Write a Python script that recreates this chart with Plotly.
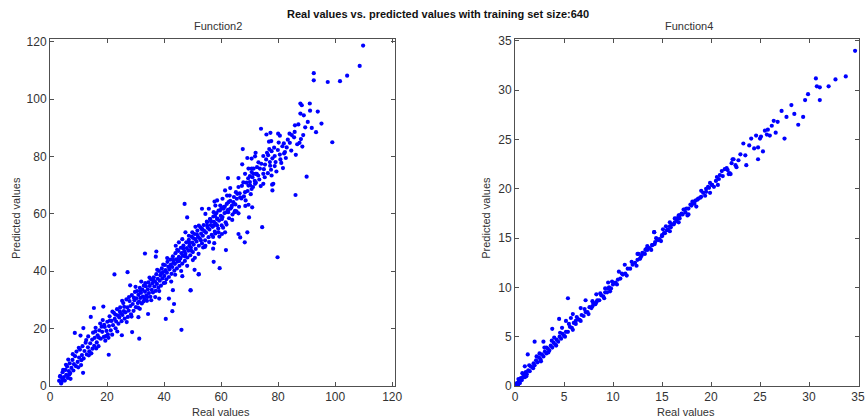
import plotly.graph_objects as go

# ---------------- Function2 data ----------------
f2_real = [
    109.8, 92.5, 92.5, 97.4, 101.7, 104.2, 108.6, 87.8, 88.3, 91.1, 91.2, 93.9, 87.8, 85.9,
    74.0, 75.9, 77.3, 80.0, 80.6, 84.8, 85.6, 88.8, 84.1, 87.5, 88.5, 99.0, 76.8, 77.6, 82.0,
    76.9, 77.7, 76.5, 78.8, 80.6, 82.4, 82.1, 71.9, 70.7, 74.8, 75.4, 77.1, 78.8, 81.7, 73.6,
    90.0, 70.7, 72.1, 73.0, 74.8, 77.7, 78.3, 74.8, 70.1,
    86.1, 79.8, 74.4, 67.6, 72.1, 69.2, 67.4, 69.6, 70.7, 71.4, 72.5, 71.3, 70.1, 68.4, 66.1,
    62.4, 77.9, 78.0, 71.9, 69.6, 70.7, 68.4, 66.1, 65.2, 63.2, 61.4, 62.1, 60.5, 62.6, 63.8,
    65.5, 66.7, 68.6, 69.6, 70.9, 69.8, 66.1, 66.7, 69.2, 68.3, 64.7, 66.1, 58.6, 58.0, 59.7,
    59.1, 60.9, 62.0, 63.2, 57.4, 55.7, 53.3, 47.2, 48.1, 54.5, 56.2, 58.6, 60.3, 55.1, 57.4,
    59.1, 58.0, 53.3, 52.2, 51.0, 49.9, 48.7, 47.5, 46.4, 45.2, 44.1, 54.5, 57.6, 61.7, 57.4,
    59.5, 52.1, 49.3,
    57.7, 33.3, 37.3, 37.1, 22.6, 27.2, 28.1, 15.4, 18.7, 14.3, 8.7, 10.7, 11.7, 11.6, 7.2,
    4.1, 3.5, 4.6, 6.4, 20.6, 31.3, 28.8, 25.2, 46.1, 40.6, 42.9, 43.5, 34.4, 31.0, 31.5,
    38.3, 41.7, 43.1, 49.3, 46.4, 50.7, 52.2, 53.7, 57.2, 50.1, 60.3, 61.4,
    66.5, 67.3, 68.0, 68.9, 69.5, 70.2, 71.0, 71.8, 72.6, 73.4, 74.1, 75.0, 75.8, 76.4, 77.2,
    78.0, 79.1, 79.9, 80.8, 81.5, 82.7, 83.4, 84.6, 85.8, 86.7, 89.5, 90.4, 95.2,
    3.2, 3.6, 3.9, 4.3, 4.4, 4.9, 5.2, 5.4, 5.7, 6.0, 6.3, 6.6, 6.9, 7.1, 7.5, 7.9, 8.2, 8.4,
    8.8, 9.1, 9.3, 9.7, 10.2, 10.5, 10.9,
    11.2, 11.4, 11.8, 12.1, 12.5, 12.9, 13.3, 13.4, 13.8, 14.1, 14.5, 14.8, 15.1, 15.5, 15.7,
    16.0, 16.4, 16.7, 17.0, 17.3, 17.6, 17.8, 18.3, 18.5, 18.9, 19.2, 19.4, 19.8, 20.1, 20.3,
    20.7, 20.9, 21.3, 21.6, 21.8, 22.1, 22.4, 22.7, 23.0, 23.2, 23.5, 23.8, 24.0, 24.3, 24.6,
    24.9, 25.1, 25.4, 25.7, 25.9, 26.2, 26.5, 26.8, 27.1, 27.3, 27.6, 27.9, 28.2, 28.4, 28.7,
    29.0, 29.3, 29.6, 29.8, 30.1,
    30.3, 30.5, 30.8, 31.0, 31.2, 31.5, 31.7, 31.9, 32.2, 32.4, 32.6, 32.9, 33.1, 33.3, 33.6,
    33.8, 34.0, 34.3, 34.5, 34.7, 35.0, 35.2, 35.4, 35.7, 35.9, 36.1, 36.4, 36.6, 36.8, 37.1,
    37.3, 37.5, 37.8, 38.0, 38.2, 38.5, 38.7, 38.9, 39.2, 39.4, 39.6, 39.9, 40.1,
    40.3, 40.5, 40.8, 41.0, 41.2, 41.5, 41.7, 41.9, 42.2, 42.4, 42.6, 42.9, 43.1, 43.3, 43.6,
    43.8, 44.0, 44.3, 44.5, 44.7, 45.0, 45.2, 45.4, 45.7, 45.9, 46.1, 46.4, 46.6, 46.8, 47.1,
    47.3, 47.5, 47.8, 48.0, 48.2, 48.5, 48.7, 48.9, 49.2, 49.4, 49.6, 49.9,
    50.1, 50.4, 50.6, 50.9, 51.1, 51.4, 51.7, 51.9, 52.2, 52.5, 52.8, 53.0, 53.3, 53.6, 53.9,
    54.2, 54.4, 54.7, 55.0, 55.3, 55.6, 55.9, 56.1, 56.4, 56.7, 57.0, 57.3, 57.5, 57.8, 58.1,
    58.4, 58.7, 59.0, 59.3, 59.6, 59.9,
    60.2, 60.5, 60.9, 61.2, 61.6, 62.0, 62.4, 62.8, 63.2, 63.6, 64.0, 64.5, 65.0, 65.4,
    5.6, 6.8, 8.0, 9.9, 10.1, 11.0, 12.7, 13.6, 14.9, 15.9, 16.2, 17.1, 18.1, 19.0, 19.6,
    20.5, 21.0, 21.9, 22.9, 23.6, 24.5, 25.3, 26.0, 26.9, 27.7, 28.6, 29.4, 30.0, 30.9, 31.6,
    32.0, 32.8, 33.4, 34.1, 34.9, 35.5, 36.2, 36.9, 37.6, 38.3, 39.0, 39.7, 40.4, 41.1, 41.8,
    42.5, 43.2, 43.9, 44.6, 45.3, 46.0, 46.7, 47.4, 48.1, 48.8, 49.5, 50.2, 50.8, 51.5, 52.1,
    52.9, 53.5, 54.3, 55.1, 55.8, 56.5, 57.2, 57.9, 58.6, 59.4, 60.1, 60.7, 61.3, 61.9, 62.5,
    63.0, 63.9, 64.3, 64.9, 65.7, 66.3, 67.1, 67.8, 68.5, 69.3, 70.4, 71.2, 72.2, 73.1, 73.9,
    75.3, 76.1, 77.5, 78.6, 79.4, 80.2, 81.1, 83.0, 84.0, 86.2, 87.1, 88.0, 89.0, 91.8, 93.3,
]
f2_pred = [
    118.7, 109.1, 106.6, 106.0, 106.3, 108.2, 111.6, 98.5, 97.9, 98.5, 96.0, 95.7, 95.0, 90.9,
    89.7, 87.7, 88.3, 88.0, 87.3, 87.5, 86.7, 87.5, 84.8, 84.8, 83.5, 85.0, 85.2, 85.4, 84.6,
    82.6, 81.9, 80.5, 80.2, 80.7, 81.6, 81.1, 80.1, 79.3, 80.2, 77.2, 78.1, 76.7, 76.0, 75.8,
    73.0, 74.6, 74.0, 73.4, 74.0, 73.4, 70.5, 70.5, 71.1,
    66.6, 44.9, 55.4, 82.6, 81.3, 79.5, 77.3, 75.8, 75.8, 75.8, 74.0, 74.0, 73.2, 74.0, 72.5,
    72.5, 70.2, 68.2, 70.5, 69.9, 68.7, 67.6, 69.4, 67.6, 69.0, 68.2, 66.4, 65.3, 64.1, 62.9,
    65.3, 65.8, 64.7, 63.2, 62.3, 58.8, 53.0, 51.8, 53.6, 50.1, 60.6, 60.2, 64.7, 62.9, 62.9,
    61.2, 61.8, 60.6, 61.8, 60.6, 61.8, 61.8, 63.5, 58.8, 60.0, 58.2, 58.2, 58.2, 57.1, 55.9,
    53.6, 53.2, 54.7, 55.9, 55.5, 53.6, 52.4, 53.6, 51.2, 50.1, 48.9, 48.9, 49.8, 47.4, 43.3,
    41.1, 38.9, 33.3,
    64.3, 46.2, 46.9, 45.1, 38.9, 39.7, 35.1, 27.2, 27.7, 24.1, 18.5, 17.6, 20.2, 4.6, 2.5,
    1.5, 3.3, 5.6, 9.2, 10.9, 16.5, 18.8, 17.7, 19.6, 23.4, 26.1, 28.6, 25.1, 24.0, 26.9,
    30.5, 30.5, 33.4, 33.4, 38.3, 40.5, 39.0, 48.3, 47.9, 43.9, 53.0, 53.6,
    67.2, 69.8, 66.1, 70.9, 72.4, 70.0, 72.8, 71.5, 76.3, 72.0, 77.5, 75.6, 79.0, 74.2, 76.8,
    79.4, 78.1, 82.3, 79.0, 83.6, 79.5, 85.9, 82.1, 88.6, 84.3, 90.2, 92.1, 91.5,
    1.8, 3.5, 0.9, 2.6, 4.8, 3.1, 1.9, 5.6, 3.9, 6.8, 2.8, 5.2, 7.9, 4.5, 6.3, 9.1, 5.4, 7.6,
    10.4, 6.9, 12.0, 8.4, 9.9, 12.7, 7.3,
    10.8, 13.9, 9.6, 12.2, 15.1, 11.0, 13.5, 17.3, 12.1, 14.9, 11.4, 16.2, 18.6, 14.0, 16.8,
    20.3, 15.2, 17.7, 13.9, 19.4, 21.8, 16.5, 18.9, 23.0, 17.1, 20.6, 15.8, 19.2, 22.4, 18.0,
    20.9, 24.3, 19.4, 22.7, 17.9, 21.2, 25.5, 23.4, 20.1, 22.5, 26.8, 24.6, 21.7, 23.9, 27.4,
    25.2, 22.6, 24.8, 28.9, 26.1, 23.5, 25.7, 30.2, 27.4, 24.1, 26.3, 29.6, 27.9, 25.0, 31.7,
    28.6, 26.2, 29.9, 32.8, 27.5,
    30.6, 33.1, 28.9, 31.8, 29.4, 34.2, 30.7, 32.5, 28.8, 33.6, 31.2, 35.0, 30.4, 32.9, 34.8,
    31.6, 29.7, 33.7, 36.1, 32.4, 34.9, 31.1, 37.2, 33.5, 35.8, 32.6, 37.9, 34.7, 36.5, 33.2,
    39.0, 35.6, 37.4, 34.3, 40.1, 36.7, 38.6, 35.0, 41.0, 37.5, 39.7, 35.9, 38.4,
    42.2, 40.4, 37.2, 39.5, 43.3, 41.6, 38.0, 40.7, 44.1, 42.3, 39.1, 41.5, 45.2, 43.0, 40.2,
    42.6, 46.3, 44.2, 41.0, 43.4, 47.1, 45.0, 41.9, 44.5, 48.2, 46.3, 42.7, 45.4, 49.0, 47.0,
    43.6, 46.1, 50.1, 48.1, 44.8, 47.2, 51.0, 49.0, 45.6, 48.3, 52.1, 50.0,
    46.7, 49.3, 53.0, 51.2, 47.8, 50.4, 54.2, 52.0, 48.9, 51.5, 55.3, 53.1, 49.7, 52.4, 56.1,
    54.0, 50.8, 53.5, 57.3, 55.2, 51.9, 54.6, 58.2, 56.1, 52.7, 55.5, 59.1, 57.2, 53.8, 56.6,
    60.3, 58.4, 54.9, 57.7, 61.2, 59.3,
    56.0, 58.9, 62.4, 60.3, 57.1, 63.5, 61.4, 58.5, 64.6, 62.2, 59.8, 65.9, 63.3, 60.9,
    7.4, 4.0, 11.1, 6.5, 13.3, 9.0, 16.0, 10.7, 13.0, 19.0, 13.1, 16.9, 20.7, 21.3, 17.4,
    16.8, 22.8, 25.9, 24.9, 19.0, 26.0, 29.7, 27.6, 22.3, 31.0, 24.2, 30.8, 34.6, 27.3, 33.0,
    36.4, 29.5, 35.9, 31.0, 37.8, 29.9, 36.8, 31.0, 40.5, 33.1, 39.2, 42.3, 36.0, 44.6, 41.4,
    36.4, 44.0, 38.8, 47.5, 43.6, 40.1, 48.0, 45.2, 41.9, 50.0, 47.2, 51.6, 44.7, 52.9, 46.1,
    50.8, 54.6, 48.5, 55.9, 50.2, 57.4, 52.0, 59.3, 56.0, 52.1, 61.9, 55.2, 62.6, 56.3, 60.6,
    66.4, 57.9, 64.1, 61.1, 67.0, 62.5, 65.4, 71.0, 62.8, 68.0, 66.9, 69.4, 70.9, 78.0, 69.7,
    72.8, 81.3, 75.4, 83.1, 74.8, 84.9, 77.8, 83.2, 88.0, 80.6, 91.2, 86.1, 94.4, 90.0, 88.5,
]

# ---------------- Function4 data ----------------
f4_real = [
    34.7, 33.75, 32.7, 32.0, 31.1, 30.8, 30.7, 31.1, 29.9, 29.6, 29.4, 28.9, 27.7, 27.5, 26.6,
    26.4, 26.2, 25.8, 25.7, 25.1, 25.0, 24.1, 23.3, 24.8, 25.3, 24.8, 22.8, 22.3, 22.5, 23.6,
    22.0, 21.8, 21.6, 21.4, 21.1, 20.9, 20.8, 20.5, 20.7, 20.1, 19.7, 22.2, 21.9, 19.9, 19.5,
    19.0, 18.7, 18.4, 18.2, 17.9, 17.3, 17.7, 17.0, 16.7, 16.5, 16.3, 16.0, 15.8, 15.5, 15.2,
    15.0, 14.2, 14.6, 14.3, 14.0, 13.5, 13.3, 13.0, 12.6, 12.8,
    1.3, 2.0, 2.9, 3.8, 4.5, 5.2, 5.4, 5.9, 5.7, 6.7, 7.2, 6.2, 9.5, 9.2, 9.7, 12.5, 14.2,
    15.1, 15.8, 16.8, 17.5, 1.0, 2.5, 3.2, 4.0, 8.3, 10.6, 11.2, 7.9, 4.8,
    0.1, 0.2, 0.3, 0.4, 0.5, 0.6, 0.7, 0.8, 0.9, 1.0, 1.1, 1.2, 1.35, 1.5, 1.6, 1.75, 1.9,
    2.0, 2.15, 2.3, 2.45, 2.6, 2.75, 2.9, 3.05, 3.2, 3.35, 3.5, 3.65, 3.8, 3.95, 4.1, 4.25,
    4.4, 4.55, 4.7, 4.85, 5.0, 5.2, 5.4, 5.6, 5.8, 6.0, 6.2, 6.4, 6.6, 6.8, 7.0, 7.2, 7.4,
    7.6, 7.8, 8.0, 8.2, 8.4, 8.6, 8.8, 9.0, 9.2, 9.4, 9.6, 9.8, 10.0, 10.25, 10.5, 10.75,
    11.0, 11.25, 11.5, 11.75, 12.0, 12.25, 12.5, 12.75, 13.0, 13.25, 13.5, 13.75, 14.0,
    14.25, 14.5, 14.75, 15.0, 15.3, 15.6, 15.9, 16.2, 16.5, 16.8, 17.1, 17.4, 17.7, 18.0,
    18.3, 18.6, 18.9, 19.2, 19.5, 19.8, 20.1,
    0.35, 0.75, 1.15, 1.45, 1.85, 2.2, 2.65, 3.0, 3.4, 3.75, 4.2, 4.6, 5.1, 5.5, 5.9, 6.3,
    6.7, 7.1, 7.5, 7.9, 8.3, 8.7, 9.1, 9.5, 9.9, 10.4, 10.9, 11.4, 11.9, 12.4, 12.9, 13.4,
    13.9, 14.4, 14.9, 15.4, 15.8, 16.3, 16.7, 17.2, 17.6, 18.1, 18.5, 19.0, 19.4, 19.9, 20.3,
    20.6, 21.2, 21.7, 22.1, 22.6, 23.0, 23.5, 23.9, 24.4, 24.6, 25.5, 26.0, 26.8, 27.2, 28.2,
    28.5,
]
f4_pred = [
    34.0, 31.4, 31.1, 30.4, 30.3, 30.4, 31.2, 29.0, 29.6, 29.0, 27.3, 26.5, 27.3, 25.1, 25.7,
    26.9, 26.4, 26.0, 25.5, 25.3, 25.1, 25.1, 24.6, 24.2, 23.8, 23.0, 22.9, 23.0, 22.4, 22.4,
    21.5, 21.5, 22.1, 22.0, 21.8, 21.4, 21.0, 20.8, 20.4, 20.4, 20.2, 23.0, 21.6, 19.6, 20.0,
    19.2, 19.0, 18.8, 18.6, 18.4, 17.9, 17.4, 17.5, 17.3, 17.0, 16.6, 16.4, 16.2, 15.8, 15.5,
    15.2, 15.6, 14.8, 14.6, 14.3, 14.2, 13.8, 13.5, 13.4, 13.0,
    3.2, 4.5, 4.5, 5.8, 6.8, 6.6, 8.9, 7.3, 6.9, 7.9, 8.7, 6.6, 10.5, 9.9, 9.6, 13.4, 15.6,
    15.9, 16.6, 17.3, 18.0, 2.0, 3.3, 3.9, 4.9, 9.3, 11.6, 12.3, 8.6, 5.9,
    0.0, 0.3, 0.1, 0.5, 0.3, 0.8, 0.6, 0.9, 1.2, 0.9, 1.4, 1.2, 1.6, 1.5, 2.0, 1.9, 2.3,
    2.1, 2.6, 2.4, 2.9, 2.7, 3.2, 3.0, 3.5, 3.3, 3.8, 3.6, 4.1, 3.9, 4.4, 4.2, 4.7,
    4.5, 5.0, 4.8, 5.3, 5.1, 5.5, 5.5, 6.0, 5.9, 6.4, 6.3, 6.8, 6.7, 7.2, 7.1, 7.5, 7.5,
    8.0, 7.9, 8.4, 8.3, 8.7, 8.7, 9.2, 9.1, 9.5, 9.5, 10.0, 9.9, 10.3, 10.5, 10.8, 10.9,
    11.3, 11.4, 11.9, 11.9, 12.3, 12.5, 12.8, 12.9, 13.4, 13.4, 13.8, 14.0, 14.3,
    14.4, 14.9, 14.9, 15.3, 15.5, 15.9, 16.1, 16.4, 16.8, 17.0, 17.4, 17.6, 18.0, 18.3,
    18.5, 18.9, 19.1, 19.6, 19.7, 20.1, 20.4,
    0.7, 1.3, 1.0, 2.1, 1.8, 3.0, 2.5, 3.9, 3.4, 4.6, 4.1, 5.4, 5.0, 6.3, 5.7, 7.0,
    6.6, 7.8, 7.3, 8.1, 8.5, 9.4, 8.9, 9.9, 10.6, 10.3, 11.4, 11.2, 12.6, 12.2, 13.2, 13.9,
    13.8, 15.0, 14.7, 16.2, 15.7, 17.0, 16.6, 17.9, 17.3, 18.7, 18.2, 19.8, 19.3, 20.6, 20.2,
    21.2, 21.3, 21.9, 22.6, 22.2, 23.5, 23.4, 24.4, 24.1, 25.4, 25.9, 25.4, 26.8, 27.9, 28.5,
    27.6,
]

main_title = "Real values vs. predicted values with training set size:640"
sub_titles = ["Function2", "Function4"]
x_label = "Real values"
y_label = "Predicted values"

font_family = "Liberation Sans, Arial, sans-serif"
dot_color = "#0000FF"

fig = go.Figure()
fig.add_trace(go.Scatter(x=f2_real, y=f2_pred, mode="markers", xaxis="x", yaxis="y",
                         marker=dict(color=dot_color, size=4.2, line=dict(width=0)),
                         showlegend=False))
fig.add_trace(go.Scatter(x=f4_real, y=f4_pred, mode="markers", xaxis="x2", yaxis="y2",
                         marker=dict(color=dot_color, size=4.2, line=dict(width=0)),
                         showlegend=False))

axis_common = dict(showgrid=False, zeroline=False, showline=True, mirror="allticks",
                   linecolor="#505050", linewidth=1, ticks="inside", ticklen=4,
                   tickcolor="#505050", tickfont=dict(family=font_family, size=12, color="#333333"))

L0, L1 = 0.0, 0.4265
R0, R1 = 0.5748, 1.0

fig.update_layout(
    width=868, height=419,
    margin=dict(l=50, r=2, t=39, b=33),
    paper_bgcolor="white", plot_bgcolor="white",
    font=dict(family=font_family, color="#333333"),
    xaxis=dict(domain=[L0, L1], range=[0, 121], tickvals=[0, 20, 40, 60, 80, 100, 120],
               anchor="y", **axis_common),
    yaxis=dict(domain=[0, 1], range=[0, 121], tickvals=[0, 20, 40, 60, 80, 100, 120],
               anchor="x", **axis_common),
    xaxis2=dict(domain=[R0, R1], range=[0, 35.1], tickvals=[0, 5, 10, 15, 20, 25, 30, 35],
                anchor="y2", **axis_common),
    yaxis2=dict(domain=[0, 1], range=[0, 35.2], tickvals=[0, 5, 10, 15, 20, 25, 30, 35],
                anchor="x2", **axis_common),
)

ann = []
ann.append(dict(text="<b>" + main_title + "</b>", x=0.479, y=1.072, xref="paper", yref="paper",
                showarrow=False, font=dict(size=11, color="#111111"), xanchor="center", yanchor="middle"))
ann.append(dict(text=sub_titles[0], x=0.208, y=1.037, xref="paper", yref="paper",
                showarrow=False, font=dict(size=11), xanchor="center", yanchor="middle"))
ann.append(dict(text=sub_titles[1], x=0.790, y=1.037, xref="paper", yref="paper",
                showarrow=False, font=dict(size=11), xanchor="center", yanchor="middle"))
ann.append(dict(text=x_label, x=0.211, y=-0.075, xref="paper", yref="paper",
                showarrow=False, font=dict(size=11), xanchor="center", yanchor="middle"))
ann.append(dict(text=x_label, x=0.786, y=-0.075, xref="paper", yref="paper",
                showarrow=False, font=dict(size=11), xanchor="center", yanchor="middle"))
ann.append(dict(text=y_label, x=-0.043, y=0.485, xref="paper", yref="paper", textangle=-90,
                showarrow=False, font=dict(size=11), xanchor="center", yanchor="middle"))
ann.append(dict(text=y_label, x=0.539, y=0.485, xref="paper", yref="paper", textangle=-90,
                showarrow=False, font=dict(size=11), xanchor="center", yanchor="middle"))
fig.update_layout(annotations=ann)

fig.write_html("out.html")
